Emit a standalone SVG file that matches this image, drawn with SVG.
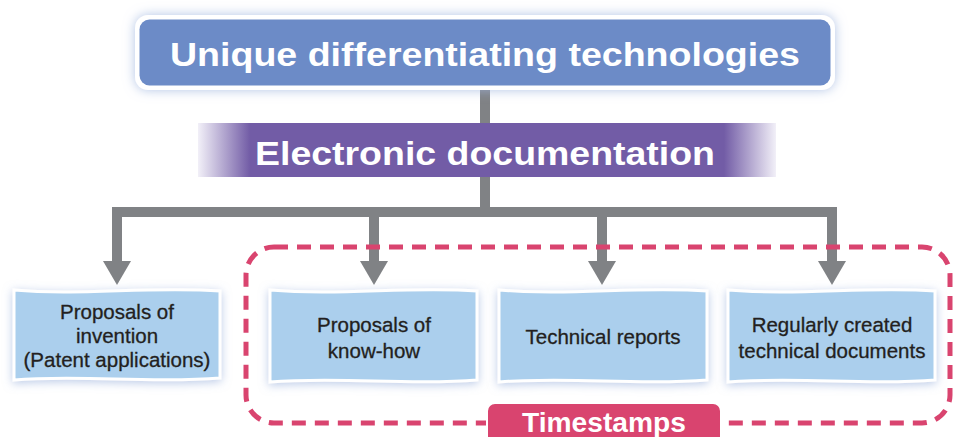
<svg xmlns="http://www.w3.org/2000/svg" width="954" height="437" viewBox="0 0 954 437">
<defs>
<style>
.doc{fill:#ABCFED;stroke:#FFFFFF;stroke-width:3;filter:url(#sh)}
.dt{font-family:"Liberation Sans",Arial,sans-serif;font-size:20.5px;fill:#231F20;stroke:#231F20;stroke-width:0.3;text-anchor:middle}
.big{font-family:"Liberation Sans",Arial,sans-serif;font-weight:bold;fill:#FFFFFF;text-anchor:middle}
.conn{fill:none;stroke:#808285;stroke-width:10}
.ah{fill:#808285}
</style>
<filter id="sh" x="-20%" y="-30%" width="140%" height="160%">
<feDropShadow dx="0" dy="2" stdDeviation="5" flood-color="#8FA8D8" flood-opacity="0.6"/>
</filter>
<filter id="glow" x="-10%" y="-50%" width="120%" height="200%">
<feDropShadow dx="0" dy="0" stdDeviation="6" flood-color="#9DB4DF" flood-opacity="0.8"/>
</filter>
<linearGradient id="pg" x1="0" y1="0" x2="1" y2="0">
<stop offset="0" stop-color="#F2F0F8"/>
<stop offset="0.09" stop-color="#725CA6"/>
<stop offset="0.91" stop-color="#725CA6"/>
<stop offset="1" stop-color="#F2F0F8"/>
</linearGradient>
</defs>
<rect width="954" height="437" fill="#FFFFFF"/>

<g id="connectors">
<path class="conn" d="M485,88 V126"/>
<path class="conn" d="M485,175 V212"/>
<path class="conn" d="M117,263 V212 H832 V263" stroke-linejoin="miter"/>
<path class="conn" d="M374,212 V263"/>
<path class="conn" d="M602,212 V263"/>
<polygon class="ah" points="103,261 131,261 117,285"/>
<polygon class="ah" points="360,261 388,261 374,285"/>
<polygon class="ah" points="588,261 616,261 602,285"/>
<polygon class="ah" points="818,261 846,261 832,285"/>
</g>

<g id="top-node">
<rect x="135" y="15" width="700" height="75" rx="13" fill="#FFFFFF" filter="url(#glow)"/>
<rect x="139.5" y="19.5" width="691" height="66" rx="10" fill="#6C8BC7"/>
<text class="big" x="485" y="66" font-size="33" textLength="630" lengthAdjust="spacingAndGlyphs">Unique differentiating technologies</text>
</g>

<g id="electronic-documentation">
<rect x="198" y="123" width="578" height="54" fill="url(#pg)"/>
<text class="big" x="485" y="165" font-size="34" textLength="460" lengthAdjust="spacingAndGlyphs">Electronic documentation</text>
</g>

<g id="timestamps-group">
<rect x="246" y="247" width="704" height="176" rx="28" fill="none" stroke="#D9446F" stroke-width="5" stroke-dasharray="14 9"/>
</g>

<g id="node-invention">
<path class="doc" d="M14,290 C80,296 150,286 220,291 L220,378 C150,384 80,374 14,380 Z"/>
<text class="dt" x="117" y="319">Proposals of</text>
<text class="dt" x="117" y="343">invention</text>
<text class="dt" x="117" y="367">(Patent applications)</text>
</g>

<g id="node-knowhow">
<path class="doc" d="M270,290 C340,296 410,286 477,291 L477,380 C410,386 340,376 270,382 Z"/>
<text class="dt" x="374" y="332">Proposals of</text>
<text class="dt" x="374" y="358">know-how</text>
</g>

<g id="node-reports">
<path class="doc" d="M499,290 C569,296 639,286 707,291 L707,380 C639,386 569,376 499,382 Z"/>
<text class="dt" x="603" y="344">Technical reports</text>
</g>

<g id="node-regular">
<path class="doc" d="M728,290 C798,296 868,286 935,291 L935,380 C868,386 798,376 728,382 Z"/>
<text class="dt" x="832" y="332">Regularly created</text>
<text class="dt" x="832" y="358">technical documents</text>
</g>

<g id="timestamps-label">
<rect x="487" y="403" width="234" height="45" rx="8" fill="#D9446F" stroke="#FFFFFF" stroke-width="2"/>
<text class="big" x="604" y="432" font-size="27" textLength="164" lengthAdjust="spacingAndGlyphs">Timestamps</text>
</g>
</svg>
